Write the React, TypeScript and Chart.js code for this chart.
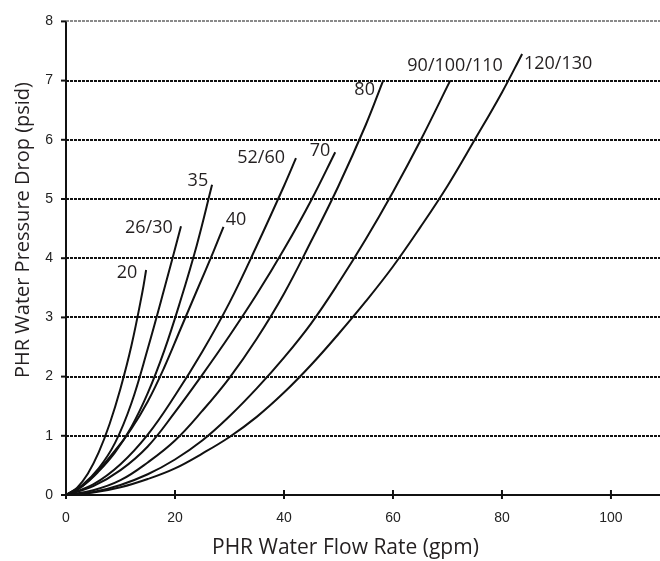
import React, { useEffect, useRef } from "react";
import { Chart, registerables } from "chart.js";

Chart.register(...registerables);

// Flow (gpm) and pressure drop (psid) per unit-size curve
const flow20 = [0, 2, 4, 6, 8, 10, 12, 14, 14.7];
const drop20 = [0, 0.12, 0.36, 0.72, 1.2, 1.8, 2.52, 3.42, 3.8];

const flow26 = [0, 3, 6, 9, 12, 15, 18, 21.1];
const drop26 = [0, 0.17, 0.45, 0.88, 1.55, 2.47, 3.47, 4.54];

const flow35 = [0, 3, 6, 9, 12, 15, 18, 21, 24, 26.8];
const drop35 = [0, 0.15, 0.4, 0.72, 1.15, 1.72, 2.43, 3.28, 4.22, 5.24];

const flow40 = [0, 3, 6, 9, 12, 15, 18, 21, 24, 27, 28.9];
const drop40 = [0, 0.15, 0.42, 0.75, 1.12, 1.58, 2.15, 2.8, 3.45, 4.1, 4.53];

const flow52 = [0, 5, 10, 15, 20, 25, 30, 35, 40, 42.2];
const drop52 = [0, 0.18, 0.52, 1.02, 1.68, 2.42, 3.25, 4.21, 5.22, 5.69];

const flow70 = [0, 5, 10, 15, 20, 25, 30, 35, 40, 45, 49.4];
const drop70 = [0, 0.15, 0.42, 0.82, 1.4, 2.03, 2.69, 3.39, 4.15, 4.98, 5.79];

const flow80 = [0, 5, 10, 15, 20, 25, 30, 35, 40, 45, 50, 55, 58.2];
const drop80 = [0, 0.08, 0.25, 0.55, 0.92, 1.42, 1.98, 2.64, 3.4, 4.29, 5.22, 6.25, 7];

const flow90 = [0, 5, 10, 15, 20, 25, 30, 35, 40, 45, 50, 55, 60, 65, 70.5];
const drop90 = [0, 0.05, 0.17, 0.35, 0.6, 0.92, 1.33, 1.8, 2.32, 2.9, 3.58, 4.32, 5.12, 5.98, 7];

const flow120 = [0, 5, 10, 15, 20, 25, 30, 35, 40, 45, 50, 55, 60, 65, 70, 75, 80, 83.7];
const drop120 = [0, 0.04, 0.13, 0.27, 0.45, 0.7, 0.98, 1.32, 1.73, 2.2, 2.72, 3.27, 3.86, 4.52, 5.22, 6, 6.8, 7.45];

// Curve labels and their anchor (data coordinates)
const curveNames = ["20", "26/30", "35", "40", "52/60", "70", "80", "90/100/110", "120/130"];
const labelFlow = [11.2, 15.2, 24.2, 31.2, 35.8, 46.6, 54.8, 71.4, 90.3];
const labelDrop = [3.76, 4.52, 5.31, 4.64, 5.69, 5.81, 6.85, 7.25, 7.28];

const xTitle = "PHR Water Flow Rate (gpm)";
const yTitle = "PHR Water Pressure Drop (psid)";

const series = [
  [flow20, drop20],
  [flow26, drop26],
  [flow35, drop35],
  [flow40, drop40],
  [flow52, drop52],
  [flow70, drop70],
  [flow80, drop80],
  [flow90, drop90],
  [flow120, drop120],
];

const INK = "#231f20";

const decorPlugin = {
  id: "decor",
  beforeDatasetsDraw(chart: any) {
    const { ctx, chartArea: a, scales } = chart;
    const y = scales.y;
    ctx.save();
    ctx.lineWidth = 2;
    ctx.setLineDash([3, 1]);
    y.ticks.forEach((t: any) => {
      if (t.value === 0) return;
      const py = Math.round(y.getPixelForValue(t.value));
      ctx.strokeStyle = t.value === 8 ? "#8a8a8a" : "#111";
      ctx.beginPath();
      ctx.moveTo(a.left, py);
      ctx.lineTo(a.right, py);
      ctx.stroke();
    });
    ctx.restore();
  },
  afterDatasetsDraw(chart: any) {
    const { ctx, chartArea: a, scales } = chart;
    const x = scales.x;
    const y = scales.y;
    ctx.save();
    ctx.strokeStyle = "#111";
    ctx.lineWidth = 2;
    ctx.beginPath();
    ctx.moveTo(a.left, a.top);
    ctx.lineTo(a.left, a.bottom);
    ctx.moveTo(a.left, a.bottom);
    ctx.lineTo(a.right, a.bottom);
    ctx.stroke();
    y.ticks.forEach((t: any) => {
      const py = y.getPixelForValue(t.value);
      ctx.beginPath();
      ctx.moveTo(a.left - 5, py);
      ctx.lineTo(a.left, py);
      ctx.stroke();
    });
    x.ticks.forEach((t: any) => {
      const px = x.getPixelForValue(t.value);
      ctx.beginPath();
      ctx.moveTo(px, a.bottom - 5);
      ctx.lineTo(px, a.bottom + 4);
      ctx.stroke();
    });
    ctx.fillStyle = INK;
    ctx.font = '18px "Open Sans"';
    ctx.textAlign = "center";
    ctx.textBaseline = "middle";
    curveNames.forEach((n, i) => {
      ctx.fillText(n, x.getPixelForValue(labelFlow[i]), y.getPixelForValue(labelDrop[i]));
    });
    ctx.restore();
  },
  afterDraw(chart: any) {
    const { ctx } = chart;
    ctx.save();
    ctx.fillStyle = INK;
    ctx.textAlign = "left";
    ctx.textBaseline = "alphabetic";
    ctx.font = '21px "Open Sans"';
    ctx.fillText(xTitle, 212, 554);
    ctx.font = '20px "Open Sans"';
    ctx.translate(29, 378);
    ctx.rotate(-Math.PI / 2);
    ctx.fillText(yTitle, 0, 0);
    ctx.restore();
  },
};

export default function App() {
  const ref = useRef<HTMLCanvasElement | null>(null);
  useEffect(() => {
    if (!ref.current) return;
    const chart = new Chart(ref.current, {
      type: "line",
      data: {
        datasets: series.map(([fx, dy], i) => ({
          label: curveNames[i],
          data: fx.map((v, k) => ({ x: v, y: dy[k] })),
          borderColor: "#111",
          borderWidth: 2,
          pointRadius: 0,
          fill: false,
          tension: 0.4,
        })),
      },
      options: {
        animation: false,
        responsive: false,
        devicePixelRatio: 1,
        layout: { padding: { top: 10, right: 0, left: 0, bottom: 0 } },
        plugins: { legend: { display: false }, tooltip: { enabled: false }, title: { display: false } },
        scales: {
          x: {
            type: "linear",
            min: 0,
            max: 109,
            grid: { display: false, drawTicks: false },
            border: { display: false },
            ticks: {
              stepSize: 20,
              includeBounds: false,
              padding: 15,
              color: "#222",
              font: { family: "Liberation Sans", size: 14 },
              maxRotation: 0,
            },
            afterFit: (s: any) => {
              s.height = 66;
            },
          },
          y: {
            type: "linear",
            min: 0,
            max: 8,
            grid: { display: false, drawTicks: false },
            border: { display: false },
            ticks: {
              stepSize: 1,
              padding: 13,
              color: "#222",
              font: { family: "Liberation Sans", size: 14 },
            },
            afterFit: (s: any) => {
              s.width = 66;
            },
          },
        },
      },
      plugins: [decorPlugin],
    });
    return () => chart.destroy();
  }, []);
  return (
    <div style={{ position: "absolute", left: 0, top: 0, width: 660, height: 561 }}>
      <canvas ref={ref} width={660} height={561} />
    </div>
  );
}
